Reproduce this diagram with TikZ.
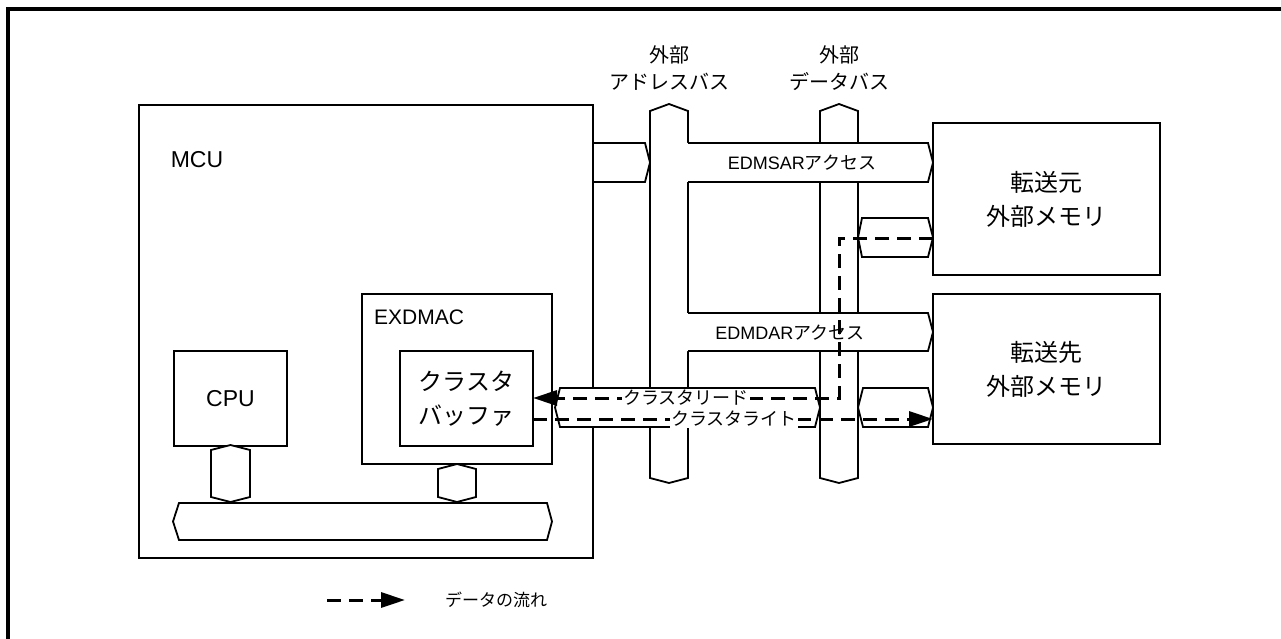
\documentclass[tikz,border=0pt]{standalone}
\usepackage{fontspec}
\setmainfont{Liberation Sans}
\newfontfamily\jp{Noto Sans CJK JP}
\usetikzlibrary{arrows.meta}
\begin{document}
\begin{tikzpicture}[x=1pt,y=-1pt,
  ln/.style={line width=1.8pt, line join=miter},
  box/.style={ln, draw, fill=white, inner sep=0pt, align=center},
  flow/.style={line width=3pt, dash pattern=on 14pt off 8pt},
  tip/.style={-{Triangle[length=24pt,width=15pt]}},
  lab/.style={fill=white, inner sep=1pt, font=\jp\fontsize{18}{20}\selectfont},
  big/.style={font=\fontsize{23}{34}\selectfont, align=center},
  bigjp/.style={font=\jp\fontsize{24}{34}\selectfont, align=center},
  mid/.style={font=\fontsize{18}{20}\selectfont},
  top/.style={font=\jp\fontsize{20}{22}\selectfont}
]
\useasboundingbox (0,0) rectangle (1281,639);
% frame
\draw[line width=3.5pt] (8,639) -- (8,9) -- (1281,9);
% boxes
\node[box, minimum width=454pt, minimum height=453pt] (mcu) at (366,331.5) {};
\node[box, minimum width=190pt, minimum height=170pt] (exdmac) at (457,379) {};
\node[box, bigjp, minimum width=133pt, minimum height=95pt] (buf) at (466.5,398.5) {クラスタ\\バッファ};
\node[box, big, minimum width=113pt, minimum height=95pt] (cpu) at (230.5,398.5) {CPU};
\node[big] (mculabel) at (197,160) {MCU};
\node[font=\fontsize{21}{24}\selectfont] (exdmaclabel) at (419,317) {EXDMAC};
% internal connectors and bus
\draw[ln, fill=white] (211,450) -- (230.5,445) -- (250,450) -- (250,497) -- (230.5,502) -- (211,497) -- cycle;
\draw[ln, fill=white] (438,469) -- (457,464) -- (476,469) -- (476,497) -- (457,502) -- (438,497) -- cycle;
\draw[ln, fill=white] (179,503) -- (547,503) -- (552,521.5) -- (547,540) -- (179,540) -- (173,521.5) -- cycle;
% external buses
\draw[ln, fill=white] (650,111) -- (669,104) -- (688,111) -- (688,478) -- (669,483) -- (650,478) -- cycle;
\draw[ln, fill=white] (820,111) -- (839,104) -- (858,111) -- (858,478) -- (839,483) -- (820,478) -- cycle;
\node[top] (ab1) at (669,55) {外部};
\node[top] (ab2) at (669,82) {アドレスバス};
\node[top] (db1) at (839,55) {外部};
\node[top] (db2) at (839,82) {データバス};
% MCU to address bus
\draw[ln, fill=white] (593,143) -- (645,143) -- (650,162.5) -- (645,182) -- (593,182) -- cycle;
% EDMSAR access
\fill[white] (686,143) -- (928,143) -- (933,162.5) -- (928,182) -- (686,182) -- cycle;
\draw[ln] (688,143) -- (928,143) -- (933,162.5) -- (928,182) -- (688,182);
\node[mid] (sar) at (802,162.5) {EDMSAR{\jp アクセス}};
% EDMDAR access
\fill[white] (686,313) -- (928,313) -- (933,332) -- (928,351) -- (686,351) -- cycle;
\draw[ln] (688,313) -- (928,313) -- (933,332) -- (928,351) -- (688,351);
\node[mid] (dar) at (790,332.5) {EDMDAR{\jp アクセス}};
% data paths
\draw[ln, fill=white] (560,388) -- (815,388) -- (820,407.5) -- (815,427) -- (560,427) -- (555,407.5) -- cycle;
\draw[ln, fill=white] (862,218) -- (928,218) -- (933,237.5) -- (928,257) -- (862,257) -- (858,237.5) -- cycle;
\draw[ln, fill=white] (863,388) -- (928,388) -- (933,407.5) -- (928,427) -- (863,427) -- (858,407.5) -- cycle;
% memories
\node[box, bigjp, minimum width=227pt, minimum height=152pt] (src) at (1046.5,199) {転送元\\外部メモリ};
\node[box, bigjp, minimum width=227pt, minimum height=150pt] (dst) at (1046.5,369) {転送先\\外部メモリ};
% flows
\coordinate (r1) at (933,238);
\coordinate (r2) at (839,238);
\coordinate (r3) at (839,398);
\coordinate (r4) at (533,398);
\draw[flow, tip] (r1) -- (r2) -- (r3) -- (r4);
\coordinate (w1) at (533,419);
\coordinate (w2) at (933,419);
\draw[flow, tip] (w1) -- (w2);
\node[lab] (rd) at (686,398) {クラスタリード};
\node[lab] (wr) at (734,419) {クラスタライト};
% legend
\coordinate (lg1) at (327,600);
\coordinate (lg2) at (405,600);
\draw[flow, tip] (lg1) -- (lg2);
\node[font=\jp\fontsize{17}{18}\selectfont] (lgt) at (496,600) {データの流れ};
\end{tikzpicture}
\end{document}
